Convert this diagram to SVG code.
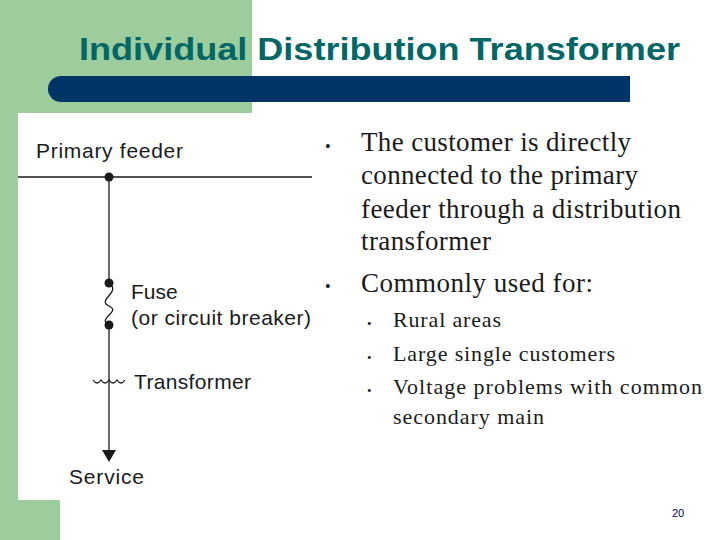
<svg xmlns="http://www.w3.org/2000/svg" width="720" height="540" viewBox="0 0 720 540">
<style>
.s{font-family:"Liberation Sans",Arial,sans-serif;font-size:21px;fill:#1a1a1a}
.t{font-family:"Liberation Serif","Times New Roman",serif;fill:#1a1a1a}
.ln{stroke:#1a1a1a;stroke-width:1.3;fill:none}
</style>
<rect width="720" height="540" fill="#fff"/>
<rect x="0" y="0" width="252" height="113" fill="#9dcc9d"/>
<rect x="0" y="0" width="60" height="540" fill="#9dcc9d"/>
<rect x="18" y="113" width="300" height="387" fill="#fff"/>
<rect x="48" y="76" width="582" height="26" rx="13" fill="#003366"/>
<rect x="70" y="76" width="560" height="26" fill="#003366"/>
<text x="79" y="60" font-family="Liberation Sans,Arial,sans-serif" font-weight="bold" font-size="31" fill="#006666" textLength="601" lengthAdjust="spacingAndGlyphs">Individual Distribution Transformer</text>
<g id="connectors">
<line class="ln" x1="18" y1="177" x2="312" y2="177"/>
<line class="ln" x1="109" y1="177" x2="109" y2="283"/>
<path class="ln" d="M109,283 C122,292 96,300 109,306 C122,312 96,318 109,325"/>
<line class="ln" x1="109" y1="325" x2="109" y2="452"/>
<path class="ln" d="M93,380 q4,6 8,0 q4,6 8,0 q4,6 8,0 q4,6 8,0"/>
<polygon points="102,450 116,450 109,462" fill="#1a1a1a"/>
</g>
<g id="feeder"><circle cx="109" cy="177" r="4.5" fill="#1a1a1a"/><text class="s" x="36" y="158" textLength="147">Primary feeder</text></g>
<g id="fuse"><circle cx="109" cy="283" r="4.5" fill="#1a1a1a"/><circle cx="109" cy="325" r="4.5" fill="#1a1a1a"/><text class="s" x="131" y="299">Fuse</text><text class="s" x="131" y="325" textLength="180">(or circuit breaker)</text></g>
<g id="transformer"><text class="s" x="134" y="389" textLength="117">Transformer</text></g>
<g id="service"><text class="s" x="69" y="484" textLength="75">Service</text></g>
<g id="bullets" class="t">
<text x="325" y="152" font-size="16">•</text>
<text x="361" y="151" font-size="27" textLength="270">The customer is directly</text>
<text x="361" y="184" font-size="27" textLength="277">connected to the primary</text>
<text x="361" y="218" font-size="27" textLength="320">feeder through a distribution</text>
<text x="361" y="250" font-size="27" textLength="130">transformer</text>
<text x="325" y="292" font-size="16">•</text>
<text x="361" y="292" font-size="27" textLength="232">Commonly used for:</text>
<text x="367" y="328" font-size="13">•</text>
<text x="393" y="327" font-size="22" textLength="108">Rural areas</text>
<text x="367" y="362" font-size="13">•</text>
<text x="393" y="361" font-size="22" textLength="222">Large single customers</text>
<text x="367" y="395" font-size="13">•</text>
<text x="393" y="394" font-size="22" textLength="309">Voltage problems with common</text>
<text x="393" y="424" font-size="22" textLength="151">secondary main</text>
</g>
<text x="678" y="517" text-anchor="middle" font-family="Liberation Sans,Arial,sans-serif" font-size="11" fill="#000066">20</text>
</svg>
